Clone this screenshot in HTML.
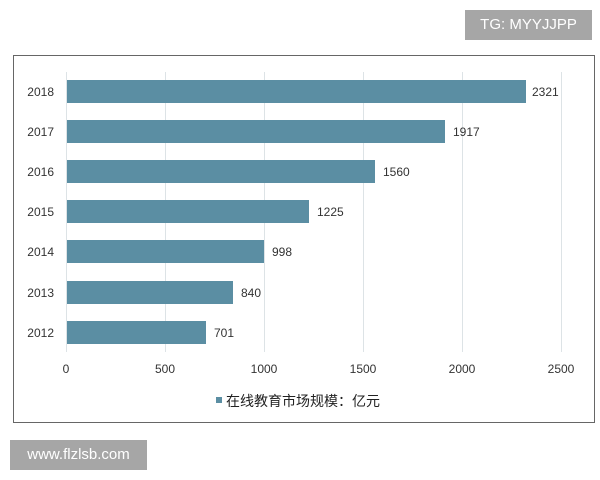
<!DOCTYPE html>
<html><head><meta charset="utf-8"><style>
body{margin:0;width:600px;height:480px;background:#fff;position:relative;overflow:hidden;font-family:"Liberation Sans","Noto Sans CJK SC",sans-serif}
.box{position:absolute;background:#a6a6a6;color:#fff;font-size:15px;text-align:center}
</style></head><body>
<div class="box" style="left:465px;top:10px;width:127px;height:30px;line-height:30px">TG: MYYJJPP</div>
<div class="box" style="left:10px;top:440px;width:137px;height:30px;line-height:30px">www.flzlsb.com</div>
<svg width="600" height="480" style="position:absolute;left:0;top:0">
<rect x="13.5" y="55.5" width="581" height="367" fill="none" stroke="#666" stroke-width="1"/>
<g stroke="#dde3e6" stroke-width="1">
<line x1="165.5" y1="72" x2="165.5" y2="352"/><line x1="264.5" y1="72" x2="264.5" y2="352"/>
<line x1="363.5" y1="72" x2="363.5" y2="352"/><line x1="462.5" y1="72" x2="462.5" y2="352"/>
<line x1="561.5" y1="72" x2="561.5" y2="352"/><line x1="66.5" y1="72" x2="66.5" y2="352"/>
</g>
<g fill="#5b8ea3">
<rect x="67" y="80" width="459" height="23"/>
<rect x="67" y="120" width="378" height="23"/>
<rect x="67" y="160" width="308" height="23"/>
<rect x="67" y="200" width="242" height="23"/>
<rect x="67" y="240" width="197" height="23"/>
<rect x="67" y="281" width="166" height="23"/>
<rect x="67" y="321" width="139" height="23"/>
</g>
<g font-family="Liberation Sans, sans-serif" font-size="12" fill="#333">
<g text-anchor="end">
<text x="54" y="96">2018</text><text x="54" y="136">2017</text><text x="54" y="176">2016</text>
<text x="54" y="216">2015</text><text x="54" y="256">2014</text><text x="54" y="297">2013</text><text x="54" y="337">2012</text>
</g>
<text x="532" y="96">2321</text><text x="453" y="136">1917</text><text x="383" y="176">1560</text>
<text x="317" y="216">1225</text><text x="272" y="256">998</text><text x="241" y="297">840</text><text x="214" y="337">701</text>
<g text-anchor="middle">
<text x="66" y="373">0</text><text x="165" y="373">500</text><text x="264" y="373">1000</text>
<text x="363" y="373">1500</text><text x="462" y="373">2000</text><text x="561" y="373">2500</text>
</g>
</g>
<rect x="216" y="397" width="6" height="6" fill="#5b8ea3"/>
<text x="226" y="406" font-family="Liberation Sans, Noto Sans CJK SC, sans-serif" font-size="14" fill="#222">在线教育市场规模：亿元</text>
</svg>
</body></html>
